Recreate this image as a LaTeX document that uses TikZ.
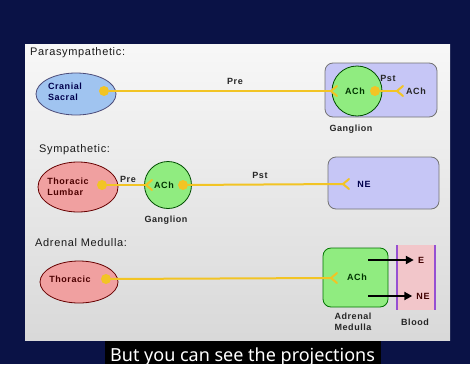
\documentclass[tikz,border=0pt]{standalone}
\usepackage{fontspec}
\setmainfont{Liberation Sans}
\newfontfamily\lblfont{Liberation Sans}[LetterSpace=6]
\newfontfamily\capfont{Noto Sans}
\usetikzlibrary{arrows.meta,shapes.geometric}

\definecolor{navy}{RGB}{10,18,70}
\definecolor{axon}{RGB}{242,196,36}
\definecolor{paraBlue}{RGB}{160,196,240}
\definecolor{pinkCell}{RGB}{240,160,160}
\definecolor{cellGreen}{RGB}{144,236,128}
\definecolor{lavender}{RGB}{198,198,246}
\definecolor{bloodPink}{RGB}{242,198,202}
\definecolor{bloodEdge}{RGB}{150,80,210}

\tikzset{
  title/.style={anchor=west, inner sep=0, text=black!90,
    font=\lblfont\fontsize{11}{12}\selectfont},
  lbl/.style={inner sep=0, align=left, text=black!85,
    font=\lblfont\bfseries\fontsize{9}{10.5}\selectfont},
  cellbody/.style={ellipse, draw, line width=0.8pt, inner sep=0},
  soma/.style={circle, draw=green!30!black, fill=cellGreen, line width=0.8pt, inner sep=0},
  targetbox/.style={draw=black!55, fill=lavender, rounded corners=8pt, line width=0.8pt},
  bouton/.style={circle, fill=axon, minimum size=10pt, inner sep=0},
  axonline/.style={draw=axon, line width=2pt},
  forkline/.style={draw=axon, line width=2pt, line cap=round},
  release/.style={line width=2.5pt, -{Triangle[length=8pt,width=8pt]}, shorten >=4pt}
}

\begin{document}
\begin{tikzpicture}[x=1pt,y=-1pt]
\useasboundingbox (0,0) rectangle (470,364);
\fill[navy] (0,0) rectangle (470,364);
\shade[top color=white!97!black, bottom color=white!85!black] (25,44) rectangle (450,340);

% ---------------- Parasympathetic ----------------
\node[title] (t1) at (30,53) {Parasympathetic:};
\node[cellbody, draw=blue!25!black!70, fill=paraBlue, minimum width=80pt, minimum height=42pt] (cs) at (76,94) {};
\node[lbl, text=blue!30!black] (csl) at (65,92) {Cranial\\Sacral};
\node[bouton] (d1) at (104,91) {};
\draw[targetbox] (325,63) rectangle (437,117);
\node[soma, minimum size=50pt] (g1) at (357,91) {};
\coordinate (f1) at (331,91);
\node[lbl, text=green!20!black] (a1) at (355,91) {ACh};
\node[bouton] (d2) at (375,91) {};
\coordinate (f2) at (397,91);
\node[lbl] (p2) at (388,78) {Pst};
\node[lbl] (a2) at (416,91) {ACh};
\node[lbl] (pre1) at (235,81) {Pre};
\node[lbl] (gn1) at (351,129) {Ganglion};
\draw[axonline] (d1) -- (f1);
\draw[forkline] (f1) ++(6,-5) -- (f1) -- ++(6,5);
\draw[axonline] (d2) -- (f2);
\draw[forkline] (f2) ++(6,-5) -- (f2) -- ++(6,5);

% ---------------- Sympathetic ----------------
\node[title] (t2) at (39,150) {Sympathetic:};
\node[cellbody, draw=red!40!black, fill=pinkCell, minimum width=80pt, minimum height=50pt] (tl) at (78,187) {};
\node[lbl, text=red!30!black] (tll) at (68,187) {Thoracic\\Lumbar};
\node[bouton] (d3) at (102,185) {};
\node[soma, minimum size=47pt] (g2) at (168,185) {};
\coordinate (f3) at (146,185);
\node[lbl, text=green!20!black] (a3) at (164,185) {ACh};
\node[bouton] (d4) at (183,185) {};
\draw[targetbox] (328,157) rectangle (439,209);
\coordinate (f4) at (343,184);
\node[lbl, text=blue!30!black] (ne1) at (364,184) {NE};
\node[lbl] (pre2) at (128,179) {Pre};
\node[lbl] (p4) at (260,175) {Pst};
\node[lbl] (gn2) at (166,220) {Ganglion};
\draw[axonline] (d3) -- (f3);
\draw[forkline] (f3) ++(6,-5) -- (f3) -- ++(6,5);
\draw[axonline] (d4) -- (f4);
\draw[forkline] (f4) ++(6,-5) -- (f4) -- ++(6,5);

% ---------------- Adrenal Medulla ----------------
\node[title] (t3) at (35,243) {Adrenal Medulla:};
\node[cellbody, draw=red!40!black, fill=pinkCell, minimum width=78pt, minimum height=42pt] (th) at (79,282) {};
\node[lbl, text=red!30!black] (thl) at (70,279) {Thoracic};
\node[bouton] (d5) at (106,279) {};
\fill[bloodPink] (397,245) rectangle (435,310);
\draw[bloodEdge, line width=2pt] (397,245) -- (397,310) (435,245) -- (435,310);
\draw[draw=green!45!black, fill=cellGreen, rounded corners=8pt, line width=0.8pt] (323,248) rectangle (388,307);
\coordinate (f5) at (331,278);
\node[lbl, text=green!20!black] (a5) at (357,277) {ACh};
\coordinate (r1) at (368,260);
\coordinate (r2) at (368,296);
\node[lbl, text=red!25!black] (e) at (421,260) {E};
\node[lbl, text=red!25!black] (ne2) at (423,296) {NE};
\node[lbl, align=center] (am) at (353,322) {Adrenal\\Medulla};
\node[lbl] (bl) at (415,322) {Blood};
\draw[axonline] (d5) -- (f5);
\draw[forkline] (f5) ++(6,-5) -- (f5) -- ++(6,5);
\draw[release] (r1) -- (e.west);
\draw[release] (r2) -- (ne2.west);

% ---------------- caption ----------------
\fill[black] (105,341) rectangle (381,364);
\node[anchor=base west, inner sep=0, text=white, font=\capfont\fontsize{18}{20}\selectfont] (cap) at (110,361) {But you can see the projections};
\end{tikzpicture}
\end{document}
